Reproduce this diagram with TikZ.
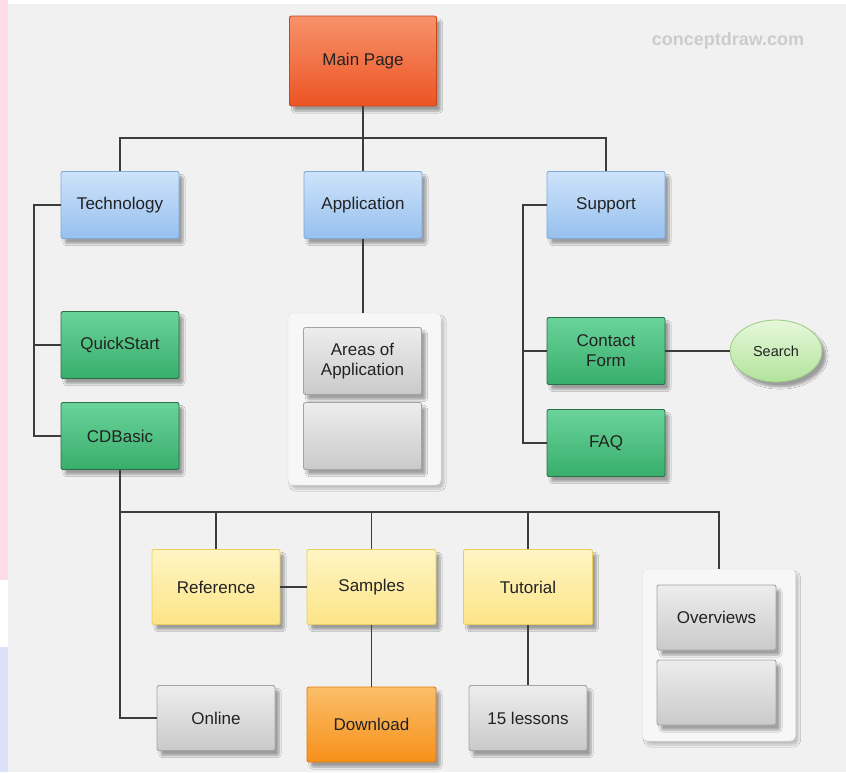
\documentclass[tikz,border=0pt]{standalone}
\usepackage{fontspec}
\setmainfont{Liberation Sans}
\usetikzlibrary{shapes.geometric,shadows.blur}

\definecolor{bg}{HTML}{F1F1F1}
\definecolor{wire}{HTML}{3C3C3C}
\definecolor{ink}{HTML}{222222}
\definecolor{redtop}{HTML}{F7926A}
\definecolor{redbot}{HTML}{EC5424}
\definecolor{redline}{HTML}{C8461C}
\definecolor{bluetop}{HTML}{CDE3FA}
\definecolor{bluebot}{HTML}{97C0EE}
\definecolor{blueline}{HTML}{7FA9D9}
\definecolor{greentop}{HTML}{6AD39A}
\definecolor{greenbot}{HTML}{38AE6C}
\definecolor{greenline}{HTML}{2C6E48}
\definecolor{yeltop}{HTML}{FFF5C4}
\definecolor{yelbot}{HTML}{FCE487}
\definecolor{yelline}{HTML}{E6CF5E}
\definecolor{graytop}{HTML}{EDEDED}
\definecolor{graybot}{HTML}{CACACA}
\definecolor{grayline}{HTML}{A4A4A4}
\definecolor{orgtop}{HTML}{FBBE6A}
\definecolor{orgbot}{HTML}{F6901A}
\definecolor{orgline}{HTML}{E07A0E}
\definecolor{srchtop}{HTML}{E6F8DA}
\definecolor{srchbot}{HTML}{B2E39C}
\definecolor{srchline}{HTML}{9CCB88}
\definecolor{pinkstrip}{HTML}{FCDDE5}
\definecolor{lavstrip}{HTML}{DCE0F8}

\tikzset{
  x=1pt, y=-1pt,
  wirestyle/.style={draw=wire, line width=1.3pt},
  card/.style={rectangle, rounded corners=2pt, line width=0.9pt,
    minimum width=118pt, minimum height=67pt, inner sep=2pt,
    font=\fontsize{17}{20}\selectfont, text=ink, align=center,
    blur shadow={shadow xshift=4pt, shadow yshift=-5pt, shadow blur steps=8, shadow opacity=35}},
  mainbox/.style={card, top color=redtop, bottom color=redbot, draw=redline},
  bluebox/.style={card, top color=bluetop, bottom color=bluebot, draw=blueline},
  greenbox/.style={card, top color=greentop, bottom color=greenbot, draw=greenline},
  yellowbox/.style={card, top color=yeltop, bottom color=yelbot, draw=yelline},
  graybox/.style={card, top color=graytop, bottom color=graybot, draw=grayline},
  orangebox/.style={card, top color=orgtop, bottom color=orgbot, draw=orgline},
  holder/.style={rectangle, rounded corners=5pt, fill=white!97!black, draw=white!88!black,
    minimum width=153pt, minimum height=172pt,
    blur shadow={shadow xshift=3pt, shadow yshift=-4pt, shadow blur steps=8, shadow opacity=20}},
  searchball/.style={ellipse, minimum width=92pt, minimum height=62pt, inner sep=0pt,
    top color=srchtop, bottom color=srchbot, draw=srchline, line width=0.8pt,
    font=\fontsize{14.5}{17}\selectfont, text=ink,
    blur shadow={shadow xshift=4pt, shadow yshift=-5pt, shadow blur steps=8, shadow opacity=35}},
}

\begin{document}
\begin{tikzpicture}
  % page background and left edge strips
  \fill[bg] (0,0) rectangle (846,772);
  \fill[white] (0,0) rectangle (846,4);
  \fill[pinkstrip] (0,0) rectangle (8,580);
  \fill[white] (0,580) rectangle (8,647);
  \fill[lavstrip] (0,647) rectangle (8,772);
  \useasboundingbox (0,0) rectangle (846,772);

  % watermark
  \node[text=white!80!black, font=\bfseries\fontsize{18}{20}\selectfont] (wm) at (728,41) {conceptdraw.com};

  % containers
  \node[holder] (areasbox) at (364.5,399) {};
  \node[holder] (overbox) at (719,655) {};

  % top levels
  \node[mainbox, minimum width=147pt, minimum height=90pt] (main) at (363,61) {Main Page};
  \node[bluebox] (tech) at (120,205) {Technology};
  \node[bluebox] (app) at (363,205) {Application};
  \node[bluebox] (sup) at (606,205) {Support};

  % technology branch
  \node[greenbox] (qs) at (120,345) {QuickStart};
  \node[greenbox] (cdb) at (120,436) {CDBasic};

  % application branch
  \node[graybox] (areas) at (362.5,361) {Areas of\\Application};
  \node[graybox] (areas2) at (362.5,436) {};

  % support branch
  \node[greenbox] (contact) at (606,351) {Contact\\Form};
  \node[greenbox] (faq) at (606,443) {FAQ};
  \node[searchball] (search) at (776,351) {Search};

  % CDBasic branch
  \node[yellowbox, minimum width=128pt, minimum height=75pt] (ref) at (216,587) {Reference};
  \node[yellowbox, minimum width=129pt, minimum height=75pt] (samp) at (371.5,587) {Samples};
  \node[yellowbox, minimum width=129pt, minimum height=75pt] (tut) at (528,587) {Tutorial};
  \node[graybox, minimum width=119pt, minimum height=65pt] (over) at (716.5,617.5) {Overviews};
  \node[graybox, minimum width=119pt, minimum height=65pt] (over2) at (716.5,692.5) {};
  \node[graybox, minimum width=118pt, minimum height=65pt] (online) at (216,718) {Online};
  \node[orangebox, minimum width=129pt, minimum height=75pt] (down) at (371.5,724.5) {Download};
  \node[graybox, minimum width=118pt, minimum height=65pt] (less) at (528,718) {15 lessons};

  % junction points
  \coordinate (bus1) at (363,138);
  \coordinate (tspine) at (34,205);
  \coordinate (sspine) at (523,205);
  \coordinate (bus2) at (120,512);

  % connectors
  \begin{scope}[wirestyle]
    \draw (main.south) -- (bus1);
    \draw (tech.north) |- (bus1) -| (sup.north);
    \draw (bus1) -- (app.north);

    \draw (tech.west) -- (tspine) |- (cdb.west);
    \draw (tspine) |- (qs.west);

    \draw (app.south) -- (app.south |- areasbox.north);

    \draw (sup.west) -- (sspine) |- (faq.west);
    \draw (sspine) |- (contact.west);
    \draw (contact.east) -- (search.west);

    \draw (cdb.south) -- (bus2) -| (overbox.north);
    \draw (bus2) |- (online.west);
    \draw (ref.north) -- (ref.north |- bus2);
    \draw (samp.north) -- (samp.north |- bus2);
    \draw (tut.north) -- (tut.north |- bus2);
    \draw (ref.east) -- (samp.west);
    \draw (samp.south) -- (down.north);
    \draw (tut.south) -- (less.north);
  \end{scope}
\end{tikzpicture}
\end{document}
